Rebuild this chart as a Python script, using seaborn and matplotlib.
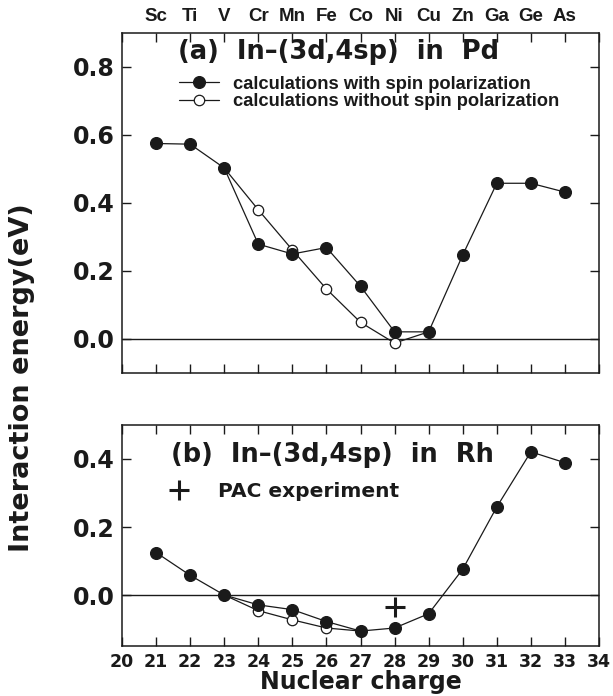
import numpy as np
import matplotlib.pyplot as plt
import seaborn as sns
from matplotlib.lines import Line2D
from matplotlib.ticker import FormatStrFormatter

sns.set_theme(style="ticks")
plt.rcParams['font.family'] = ['DejaVu Sans']
plt.rcParams.update({'text.color': 'k', 'axes.labelcolor': 'k',
                     'xtick.color': 'k', 'ytick.color': 'k', 'axes.edgecolor': 'k'})

# nuclear charge and element symbols (3d, 4sp impurities)
Z = [21, 22, 23, 24, 25, 26, 27, 28, 29, 30, 31, 32, 33]
elements = ['Sc', 'Ti', 'V', 'Cr', 'Mn', 'Fe', 'Co', 'Ni', 'Cu', 'Zn', 'Ga', 'Ge', 'As']

# (a) In-(3d,4sp) in Pd
pd_spin = [0.575, 0.573, 0.503, 0.279, 0.250, 0.269, 0.155, 0.021, 0.021, 0.247, 0.458, 0.458, 0.432]
Z_pd_nospin = [23, 24, 25, 26, 27, 28, 29]
pd_nospin = [0.503, 0.380, 0.262, 0.147, 0.049, -0.012, 0.021]

# (b) In-(3d,4sp) in Rh
rh_spin = [0.125, 0.058, 0.0, -0.029, -0.043, -0.078, -0.106, -0.097, -0.055, 0.076, 0.259, 0.421, 0.389]
Z_rh_nospin = [23, 24, 25, 26, 27]
rh_nospin = [0.0, -0.046, -0.073, -0.097, -0.106]

# PAC experiment
pac_Z = [28]
pac_E = [-0.036]

lab_spin = 'calculations with spin polarization'
lab_nospin = 'calculations without spin polarization'

fig = plt.figure(figsize=(6.13, 6.96), dpi=100)
ax1 = fig.add_axes([0.199, 0.4641, 0.7782, 0.4885])
ax2 = fig.add_axes([0.199, 0.0718, 0.7782, 0.3176])

line_kw = dict(color='k', linewidth=0.9, markeredgecolor='k', markeredgewidth=0.9)

for ax, zo, eo, es in [(ax1, Z_pd_nospin, pd_nospin, pd_spin),
                       (ax2, Z_rh_nospin, rh_nospin, rh_spin)]:
    ax.axhline(0, color='k', linewidth=1.0, zorder=1)
    sns.lineplot(x=zo, y=eo, ax=ax, marker='o', markersize=7.5,
                 markerfacecolor='white', legend=False, **line_kw)
    sns.lineplot(x=Z, y=es, ax=ax, marker='o', markersize=8.5,
                 markerfacecolor='k', legend=False, **line_kw)
    ax.set_xlim(20, 34)
    ax.set_xticks(range(20, 35))
    ax.yaxis.set_major_formatter(FormatStrFormatter('%.1f'))
    ax.tick_params(direction='in', length=6.5, width=1, top=True, right=True,
                   colors='k')
    ax.tick_params(axis='y', labelsize=17, pad=5)
    ax.tick_params(axis='x', labelsize=12.5, pad=5)
    for s in ax.spines.values():
        s.set_linewidth(1.1)
        s.set_color('k')
    ax.set_xlabel('')
    ax.set_ylabel('')

sns.scatterplot(x=pac_Z, y=pac_E, ax=ax2, marker='+', s=200, color='k',
                linewidth=2.2, legend=False, zorder=5)

ax1.set_ylim(-0.1, 0.9)
ax1.set_yticks([0.0, 0.2, 0.4, 0.6, 0.8])
ax1.tick_params(labelbottom=False)
ax2.set_ylim(-0.15, 0.5)
ax2.set_yticks([0.0, 0.2, 0.4])

for ax in (ax1, ax2):
    for lab in ax.get_xticklabels() + ax.get_yticklabels():
        lab.set_fontweight('bold')

# element symbols on top of panel (a)
sec = ax1.secondary_xaxis('top')
sec.set_xticks(Z, labels=elements)
sec.tick_params(length=0, pad=6, colors='k')
sec.spines['top'].set_visible(False)
for lab in sec.get_xticklabels():
    lab.set_fontfamily(['Liberation Sans', 'DejaVu Sans'])
    lab.set_fontweight('bold')
    lab.set_fontsize(13.5)

ax1.text(0.117, 0.944, '(a)  In\u2013(3d,4sp)  in  Pd', transform=ax1.transAxes,
         fontsize=18.5, fontweight='bold', ha='left', va='center')
ax2.text(0.103, 0.864, '(b)  In\u2013(3d,4sp)  in  Rh', transform=ax2.transAxes,
         fontsize=18.5, fontweight='bold', ha='left', va='center')

h_spin = Line2D([], [], marker='o', markersize=8.5, markerfacecolor='k', **line_kw)
h_nospin = Line2D([], [], marker='o', markersize=7.5, markerfacecolor='white', **line_kw)
ax1.legend([h_spin, h_nospin], [lab_spin, lab_nospin], loc='center left',
           bbox_to_anchor=(0.1195, 0.8235), frameon=False, borderpad=0,
           borderaxespad=0, handlelength=2.2, handletextpad=0.75,
           labelspacing=0.05, prop={'family': ['Liberation Sans', 'DejaVu Sans'],
                                    'weight': 'bold', 'size': 13.2})

h_pac = Line2D([], [], linestyle='none', marker='+', markersize=14,
               markeredgewidth=2.2, color='k')
ax2.legend([h_pac], ['PAC experiment'], loc='center left',
           bbox_to_anchor=(0.099, 0.701), frameon=False, borderpad=0,
           borderaxespad=0, handlelength=1.0, handletextpad=1.4,
           prop={'weight': 'bold', 'size': 14.5})

fig.text(0.588, 0.0095, 'Nuclear charge', fontsize=17, fontweight='bold',
         ha='center', va='baseline')
fig.text(0.036, 0.457, 'Interaction energy(eV)', rotation=90, fontsize=19.5,
         fontweight='bold', ha='center', va='center')

fig.savefig('out.png', dpi=100)
